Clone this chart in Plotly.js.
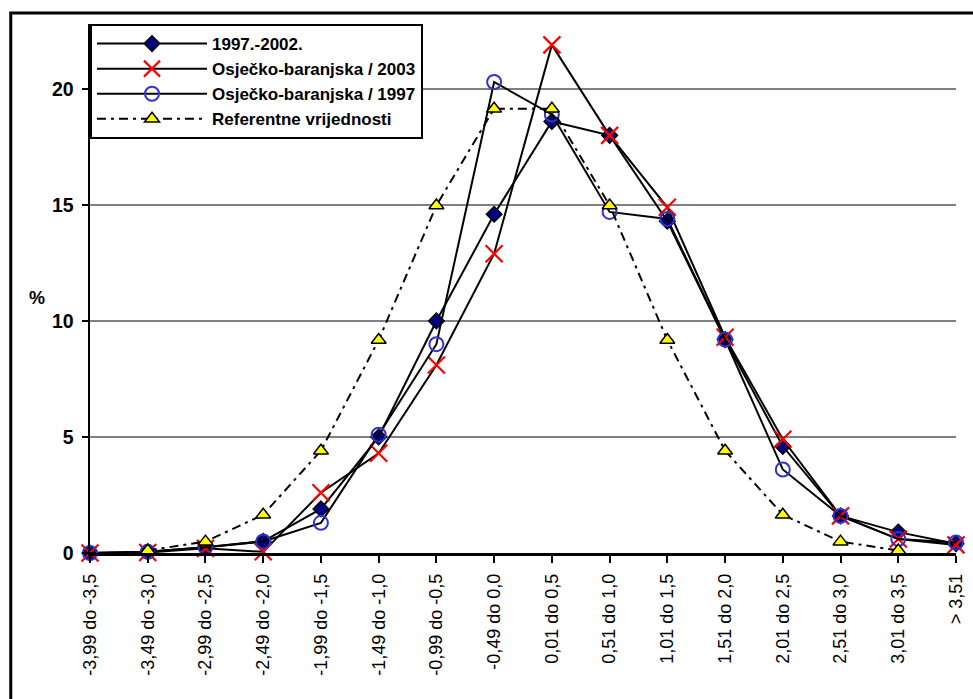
<!DOCTYPE html>
<html>
<head>
<meta charset="utf-8">
<script src="https://cdn.plot.ly/plotly-3.0.1.min.js"></script>
<style>html,body{margin:0;padding:0;background:#fff;}#chart{width:973px;height:699px;}</style>
</head>
<body>
<div id="chart"></div>
<script>
var categories = ["-3,99 do -3,5","-3,49 do -3,0","-2,99 do -2,5","-2,49 do -2,0","-1,99 do -1,5","-1,49 do -1,0","-0,99 do -0,5","-0,49 do 0,0","0,01 do 0,5","0,51 do 1,0","1,01 do 1,5","1,51 do 2,0","2,01 do 2,5","2,51 do 3,0","3,01 do 3,5","> 3,51"];
var s1997_2002 = [0.0, 0.05, 0.25, 0.5, 1.9, 5.0, 10.0, 14.6, 18.6, 18.0, 14.3, 9.2, 4.6, 1.6, 0.9, 0.4];
var sOB2003 = [0.0, 0.02, 0.2, 0.05, 2.6, 4.3, 8.1, 12.9, 21.9, 18.0, 14.9, 9.3, 4.9, 1.6, 0.6, 0.35];
var sOB1997 = [0.0, 0.05, 0.25, 0.5, 1.3, 5.1, 9.0, 20.3, 18.9, 14.7, 14.4, 9.2, 3.6, 1.6, 0.6, 0.45];
var sRef = [null, 0.11, 0.49, 1.65, 4.41, 9.18, 14.98, 19.15, 19.15, 14.98, 9.18, 4.41, 1.65, 0.49, 0.11, null];
var yTicks = [0, 5, 10, 15, 20];

var FONT = "Arial, 'Liberation Sans', sans-serif";
var traces = [
  {x: categories, y: s1997_2002, name: "1997.-2002.", legendgroup: "a", type: "scatter", mode: "lines+markers", cliponaxis: false,
   line: {color: "#000", width: 2},
   marker: {symbol: "diamond", size: 12, color: "#000080", line: {color: "#000", width: 1.5}}},
  {x: categories, y: sOB2003, name: "Osječko-baranjska / 2003", legendgroup: "b", type: "scatter", mode: "lines+markers", cliponaxis: false,
   line: {color: "#000", width: 2},
   marker: {symbol: "x-thin-open", size: 17, color: "#ff0000", line: {color: "#ff0000", width: 2.2}}},
  {x: categories, y: sOB1997, name: "Osječko-baranjska / 1997", legendgroup: "c", type: "scatter", mode: "lines+markers", cliponaxis: false,
   line: {color: "#000", width: 2},
   marker: {symbol: "circle-open", size: 14, color: "#3333cc", line: {color: "#3333cc", width: 2}}},
  {x: categories, y: sRef, name: "Referentne vrijednosti", legendgroup: "d", type: "scatter", mode: "lines+markers", cliponaxis: false,
   line: {color: "#000", width: 2, dash: "9px,5px,3px,5px"},
   marker: {symbol: "triangle-up", size: 13, color: "#ffff00", line: {color: "#000", width: 1.5}}}
];

var layout = {
  width: 973, height: 699,
  margin: {l: 90, r: 17, t: 24, b: 146},
  paper_bgcolor: "#fff", plot_bgcolor: "#fff",
  font: {family: FONT, color: "#000", size: 17},
  showlegend: true,
  legend: {x: 0, y: 1, xanchor: "left", yanchor: "top", bgcolor: "#fff", bordercolor: "#000", borderwidth: 2,
           font: {family: FONT, size: 17, weight: "bold", color: "#000"}, itemwidth: 110, tracegroupgap: 5, traceorder: "normal"},
  xaxis: {type: "category", range: [0, 15], showline: true, linecolor: "#000", linewidth: 2.5,
          ticks: "outside", ticklen: 7, tickwidth: 2, tickcolor: "#000", tickangle: -90, ticklabelstandoff: 4,
          tickfont: {family: FONT, size: 18, color: "#000"}, showgrid: false, zeroline: false, fixedrange: true},
  yaxis: {range: [0, 22.8], tickvals: yTicks, ticktext: yTicks.map(String), showline: true, linecolor: "#000", linewidth: 2.5,
          ticks: "outside", ticklen: 6, tickwidth: 2, tickcolor: "#000", ticklabelstandoff: 4,
          tickfont: {family: FONT, size: 19.5, weight: "bold", color: "#000"},
          showgrid: true, gridcolor: "#808080", gridwidth: 1.5, zeroline: false, fixedrange: true},
  annotations: [{text: "%", xref: "paper", yref: "paper", x: -0.0617, y: 0.482, xanchor: "center", yanchor: "middle", showarrow: false,
                 font: {family: FONT, size: 18, weight: "bold", color: "#000"}}],
  shapes: [{type: "rect", xref: "paper", yref: "paper", x0: -0.0915, y0: -0.4, x1: 1.1, y1: 1.0208,
            line: {color: "#000", width: 3}, fillcolor: "rgba(0,0,0,0)", layer: "below"}]
};

Plotly.newPlot("chart", traces, layout, {displayModeBar: false, staticPlot: true});
</script>
</body>
</html>
